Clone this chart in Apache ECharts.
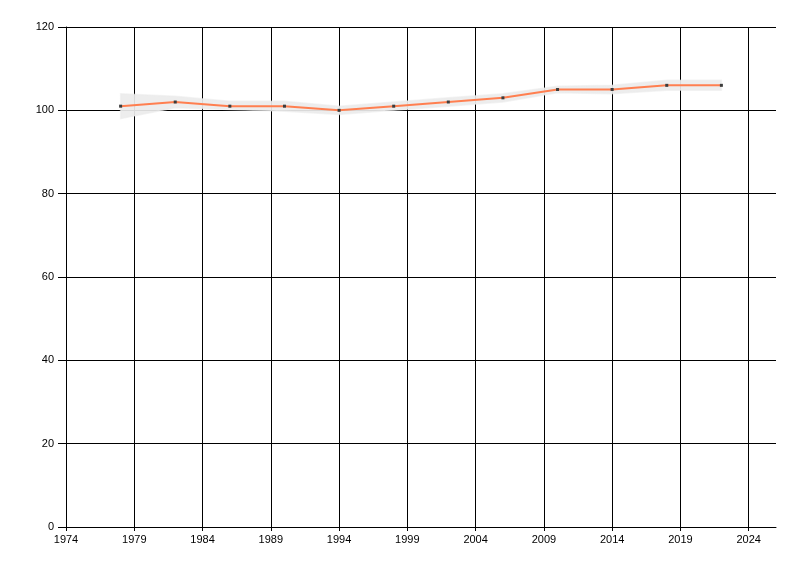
<!DOCTYPE html>
<html>
<head>
<meta charset="utf-8">
<script src="https://cdn.jsdelivr.net/npm/echarts@6/dist/echarts.min.js"></script>
<style>
html,body{margin:0;padding:0;background:#fff;}
#chart{width:800px;height:576px;}
</style>
</head>
<body>
<div id="chart"></div>
<script>
const years = [1978, 1982, 1986, 1990, 1994, 1998, 2002, 2006, 2010, 2014, 2018, 2022];
const values = [101, 102, 101, 101, 100, 101, 102, 103, 105, 105, 106, 106];
const lowerBound = [98, 100.6, 100.2, 99.8, 99, 100, 101, 102, 104.2, 104, 104.8, 104.8];
const upperBound = [104, 103.4, 102.2, 102.2, 101, 102, 103, 104, 105.8, 106, 107.2, 107.2];
const xTicks = [1974, 1979, 1984, 1989, 1994, 1999, 2004, 2009, 2014, 2019, 2024];
const yTicks = [0, 20, 40, 60, 80, 100, 120];

const fontFamily = '"Liberation Sans", Arial, sans-serif';
const chart = echarts.init(document.getElementById('chart'), null, {renderer: 'canvas'});

const bandData = years.map((y, i) => [y, lowerBound[i], upperBound[i]]);

chart.setOption({
  animation: false,
  backgroundColor: '#ffffff',
  grid: {left: 66, right: 24, top: 27, bottom: 49, containLabel: false},
  xAxis: {
    type: 'value',
    min: 1974,
    max: 2026,
    axisLine: {show: true, lineStyle: {color: '#000', width: 1}},
    axisTick: {show: true, length: 4, customValues: xTicks, lineStyle: {color: '#000'}},
    axisLabel: {customValues: xTicks, color: '#000', fontSize: 11, fontFamily: fontFamily, margin: 7,
      formatter: v => String(v)},
    splitLine: {show: true, lineStyle: {color: '#000', width: 1}}
  },
  yAxis: {
    type: 'value',
    min: 0,
    max: 120,
    interval: 20,
    axisLine: {show: true, lineStyle: {color: '#000', width: 1}},
    axisTick: {show: true, length: 8, lineStyle: {color: '#000'}},
    axisLabel: {color: '#000', fontSize: 11, fontFamily: fontFamily, margin: 12,
      formatter: v => String(v)},
    splitLine: {show: true, lineStyle: {color: '#000', width: 1}}
  },
  series: [
    {
      type: 'custom',
      silent: true,
      data: [0],
      renderItem: function (params, api) {
        const top = bandData.map(d => api.coord([d[0], d[2]]));
        const bottom = bandData.map(d => api.coord([d[0], d[1]])).reverse();
        return {
          type: 'polygon',
          shape: {points: top.concat(bottom)},
          style: {fill: '#ececec', opacity: 0.92, stroke: 'rgba(236,236,236,0.6)', lineWidth: 1.5}
        };
      },
      z: 2
    },
    {
      type: 'line',
      data: years.map((y, i) => [y, values[i]]),
      symbol: 'rect',
      symbolSize: 3,
      showSymbol: true,
      lineStyle: {color: '#ff7f50', width: 2},
      itemStyle: {color: '#3c3c3c', borderWidth: 0},
      z: 5
    }
  ]
});
</script>
</body>
</html>
